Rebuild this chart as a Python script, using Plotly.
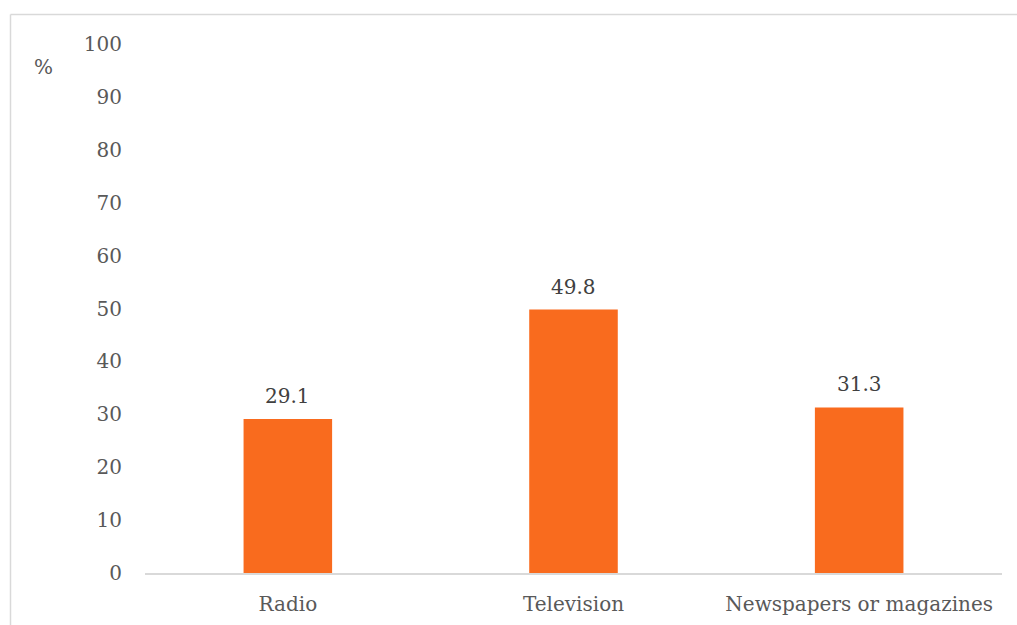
import plotly.graph_objects as go

categories = ["Radio", "Television", "Newspapers or magazines"]
values = [29.1, 49.8, 31.3]
y_ticks = [0, 10, 20, 30, 40, 50, 60, 70, 80, 90, 100]

W, H = 1017, 625
L, R, T, B = 145, 15, 44, 52
pw, ph = W - L - R, H - T - B

font_family = "DejaVu Serif, Liberation Serif, serif"
grey = "#595959"

fig = go.Figure(
    go.Bar(
        x=categories,
        y=values,
        width=0.31,
        marker=dict(color="#F96B1E", line=dict(width=0)),
        hoverinfo="x+y",
    )
)

# value labels sitting just above each bar
for cat, val in zip(categories, values):
    fig.add_annotation(x=cat, y=val, text=f"{val:.1f}", showarrow=False,
                       xanchor="center", yanchor="bottom", yshift=9,
                       font=dict(family=font_family, size=20, color="#404040"))

# frame lines along the top and left edges of the chart area
def px_x(p):
    return (p - L) / pw

def px_y(p):
    return (H - B - p) / ph

fig.add_shape(type="line", xref="paper", yref="paper",
              x0=px_x(10.5), x1=px_x(W + 5), y0=px_y(14.5), y1=px_y(14.5),
              line=dict(color="#D9D9D9", width=1.5))
fig.add_shape(type="line", xref="paper", yref="paper",
              x0=px_x(10.5), x1=px_x(10.5), y0=px_y(14.5), y1=px_y(H + 5),
              line=dict(color="#D9D9D9", width=1.5))

fig.add_annotation(text="%", xref="paper", yref="paper",
                   x=px_x(43), y=px_y(67), xanchor="center", yanchor="middle",
                   showarrow=False,
                   font=dict(family=font_family, size=20, color=grey))

fig.update_layout(
    width=W, height=H,
    margin=dict(l=L, r=R, t=T, b=B),
    paper_bgcolor="white", plot_bgcolor="white",
    showlegend=False,
    xaxis=dict(
        showline=True, linecolor="#D9D9D9", linewidth=1.5,
        showgrid=False, ticks="", ticklabelstandoff=12, automargin=False,
        tickfont=dict(family=font_family, size=20, color=grey),
    ),
    yaxis=dict(
        range=[0, 100], tickvals=y_ticks, showgrid=False, zeroline=False,
        showline=False, ticks="", ticklabelstandoff=22, automargin=False,
        tickfont=dict(family=font_family, size=20, color=grey),
    ),
)

fig.write_html("out.html")
